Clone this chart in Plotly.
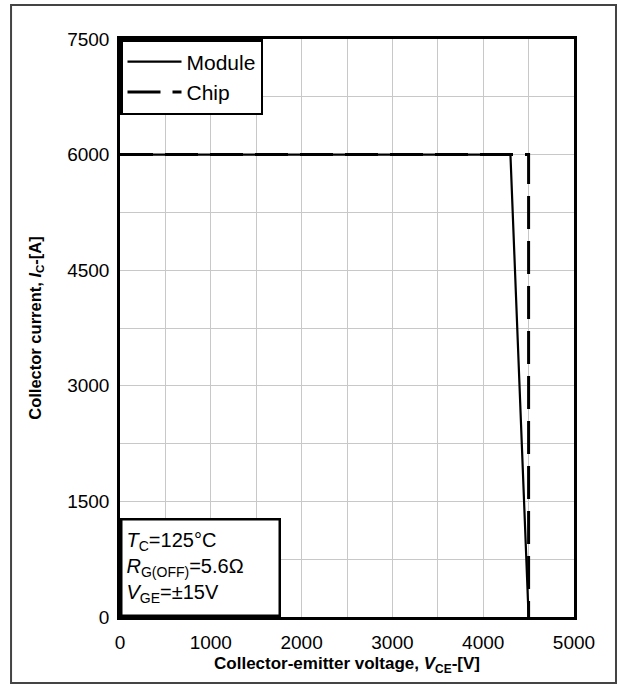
import plotly.graph_objects as go

# Data
module_v = [0, 4300, 4500]
module_i = [6000, 6000, 0]
chip_v = [0, 4500, 4500]
chip_i = [6000, 6000, 0]
x_ticks = [0, 1000, 2000, 3000, 4000, 5000]
y_ticks = [0, 1500, 3000, 4500, 6000, 7500]

FONT = "Liberation Sans, Arial, sans-serif"

fig = go.Figure()
fig.add_trace(go.Scatter(x=module_v, y=module_i, mode="lines", name="Module",
                         line=dict(color="black", width=2.2)))
fig.add_trace(go.Scatter(x=chip_v, y=chip_i, mode="lines", name="Chip",
                         line=dict(color="black", width=3, dash="33px,12px")))

fig.update_layout(
    width=618, height=687,
    margin=dict(l=120, r=44, t=39, b=70),
    plot_bgcolor="white", paper_bgcolor="white",
    font=dict(family=FONT, size=19, color="black"),
    showlegend=True,
    legend=dict(x=0, y=1, xanchor="left", yanchor="top",
                bgcolor="white", bordercolor="black", borderwidth=2.5,
                font=dict(size=21), tracegroupgap=0, itemwidth=54,
                entrywidth=84, entrywidthmode="pixels"),
    xaxis=dict(range=[0, 5000], tickvals=x_ticks, ticks="",
               showgrid=True, gridcolor="#c8c8c8", gridwidth=1.3,
               minor=dict(dtick=500, showgrid=True, gridcolor="#c8c8c8", gridwidth=1.3),
               showline=True, linecolor="black", linewidth=2.5, mirror=True,
               zeroline=False, tickfont=dict(size=19), ticklabelstandoff=6,
               title=dict(text="<b>Collector-emitter voltage, <i>V</i><sub>CE</sub>-[V]</b>",
                          font=dict(size=17), standoff=6)),
    yaxis=dict(range=[0, 7500], tickvals=y_ticks, ticks="",
               showgrid=True, gridcolor="#c8c8c8", gridwidth=1.3,
               minor=dict(dtick=750, showgrid=True, gridcolor="#c8c8c8", gridwidth=1.3),
               showline=True, linecolor="black", linewidth=2.5, mirror=True,
               zeroline=False, tickfont=dict(size=19), ticklabelstandoff=4,
               title=dict(text="<b>Collector current, <i>I</i><sub>C</sub>-[A]</b>",
                          font=dict(size=16.5), standoff=22)),
)

fig.add_annotation(
    xref="paper", yref="paper", x=0, y=0, xanchor="left", yanchor="bottom",
    text="<i>T</i><sub>C</sub>=125°C<br><i>R</i><sub>G(OFF)</sub>=5.6Ω<br><i>V</i><sub>GE</sub>=±15V",
    align="left", showarrow=False, font=dict(size=20),
    bgcolor="white", bordercolor="black", borderwidth=2.5, borderpad=4,
    width=148, height=86, valign="middle",
)

fig.add_shape(type="rect", xref="paper", yref="paper",
              x0=-0.240, x1=1.0925, y0=-0.1142, y1=1.0588,
              line=dict(color="#444444", width=2), fillcolor="rgba(0,0,0,0)", layer="below")

fig.write_html("out.html", config={"displayModeBar": False},
               post_script="document.body.style.margin='0';document.body.style.overflow='hidden';")
